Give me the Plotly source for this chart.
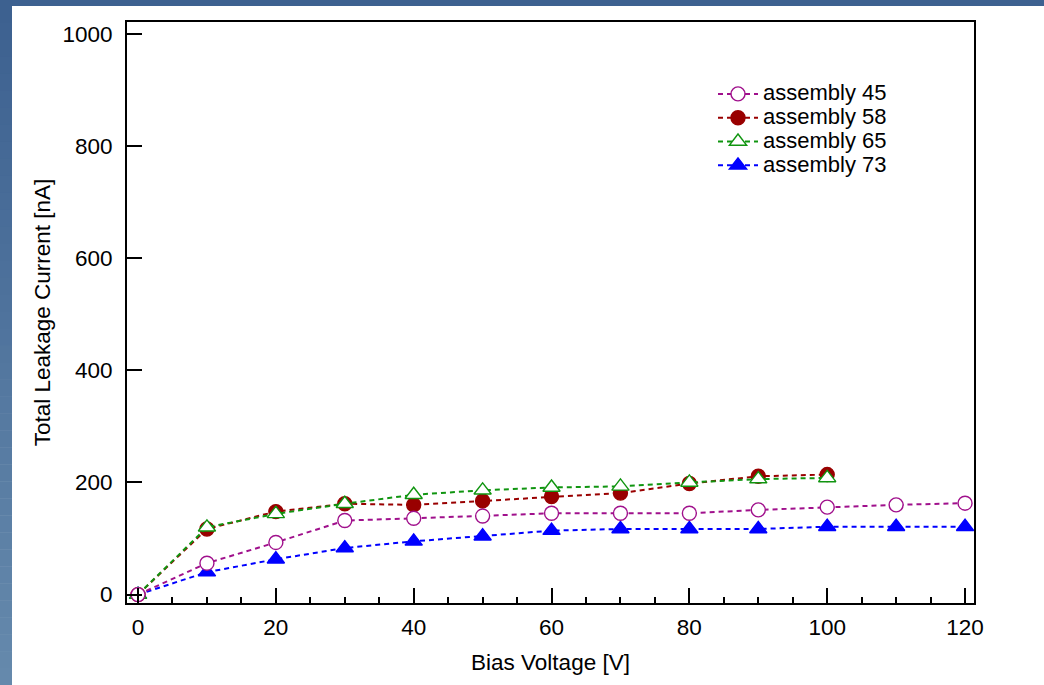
import plotly.graph_objects as go

# Bias voltage steps [V]
bias_full = [0, 10, 20, 30, 40, 50, 60, 70, 80, 90, 100, 110, 120]
bias_short = [0, 10, 20, 30, 40, 50, 60, 70, 80, 90, 100]

# Total leakage current [nA] per assembly
asm45 = [0, 56, 93, 132, 136, 140, 145, 145, 145, 151, 156, 160, 163]
asm58 = [0, 117, 148, 162, 160, 167, 175, 181, 198, 211, 214]
asm65 = [0, 120, 144, 162, 178, 186, 191, 193, 200, 206, 208]
asm73 = [0, 40, 63, 83, 95, 104, 114, 117, 117, 117, 121, 121, 121]

FONT = "Liberation Sans, Arial, sans-serif"
DASH = "5px,4px"
AXIS_FS = 22.5

fig = go.Figure()

def add_series(x, y, name, color, symbol, size, filled, rank):
    fig.add_trace(go.Scatter(
        x=x, y=y, mode="lines+markers",
        name="<span style='font-size:22px'>%s</span>" % name,
        line=dict(color=color, width=2, dash=DASH),
        marker=dict(symbol=symbol, size=size,
                    color=color if filled else "white",
                    line=dict(color=color, width=1.4)),
        legendrank=rank,
    ))

# drawing order keeps open markers on top of filled ones
add_series(bias_full, asm73, "assembly 73", "#0000ff", "triangle-up", 15, True, 4)
add_series(bias_short, asm58, "assembly 58", "#990000", "circle", 14, True, 2)
add_series(bias_short, asm65, "assembly 65", "#109510", "triangle-up", 15, False, 3)
add_series(bias_full, asm45, "assembly 45", "#a0108c", "circle", 14, False, 1)

# page geometry in pixels
W, H = 1044, 685
L, R, T, B = 127, 70, 22, 82
pw, ph = W - L - R, H - T - B

def px_x(p):
    return (p - L) / pw

def px_y(p):
    return (H - B - p) / ph

shapes = []
# blue frame: top strip and a vertical gradient on the left strip
shapes.append(dict(type="rect", xref="paper", yref="paper", layer="below",
                   x0=px_x(0), x1=px_x(W), y0=px_y(6), y1=px_y(0),
                   fillcolor="#3d6190", line=dict(width=0)))
n_bands = 40
c0 = (0x3d, 0x61, 0x90)
c1 = (0x65, 0x89, 0xac)
for i in range(n_bands):
    t = i / (n_bands - 1)
    c = tuple(round(a + (b - a) * t) for a, b in zip(c0, c1))
    y_top = 6 + (H - 6) * i / n_bands
    y_bot = 6 + (H - 6) * (i + 1) / n_bands
    shapes.append(dict(type="rect", xref="paper", yref="paper", layer="below",
                       x0=px_x(0), x1=px_x(12), y0=px_y(y_bot + 0.5), y1=px_y(y_top),
                       fillcolor="rgb(%d,%d,%d)" % c, line=dict(width=0)))

fig.update_layout(
    width=W, height=H,
    margin=dict(l=L, r=R, t=T, b=B, autoexpand=False),
    paper_bgcolor="white", plot_bgcolor="white",
    font=dict(family=FONT, size=AXIS_FS, color="black"),
    shapes=shapes,
    showlegend=True,
    legend=dict(x=px_x(713), y=px_y(77), xanchor="left", yanchor="top",
                bgcolor="rgba(0,0,0,0)", font=dict(size=16, family=FONT),
                itemwidth=40),
    xaxis=dict(
        range=[-1.6, 121.3], tickvals=[0, 20, 40, 60, 80, 100, 120],
        ticks="inside", ticklen=15, tickwidth=1.5, tickcolor="black",
        showline=True, linewidth=2, linecolor="black", mirror=True,
        showgrid=False, zeroline=False, automargin=False,
        minor=dict(dtick=5, tick0=0, ticks="inside", ticklen=6, tickwidth=1.5,
                   tickcolor="black", showgrid=False),
        title=dict(text="Bias Voltage [V]", font=dict(size=AXIS_FS), standoff=15),
        tickfont=dict(size=AXIS_FS),
        ticklabelstandoff=3,
    ),
    yaxis=dict(
        range=[-15, 1021], tickvals=[0, 200, 400, 600, 800, 1000],
        ticks="inside", ticklen=15, tickwidth=1.5, tickcolor="black",
        showline=True, linewidth=2, linecolor="black", mirror=True,
        showgrid=False, zeroline=False, automargin=False,
        title=dict(text="Total Leakage Current [nA]", font=dict(size=AXIS_FS), standoff=6),
        tickfont=dict(size=AXIS_FS),
        ticklabelstandoff=8,
    ),
)

fig.write_html("out.html")
